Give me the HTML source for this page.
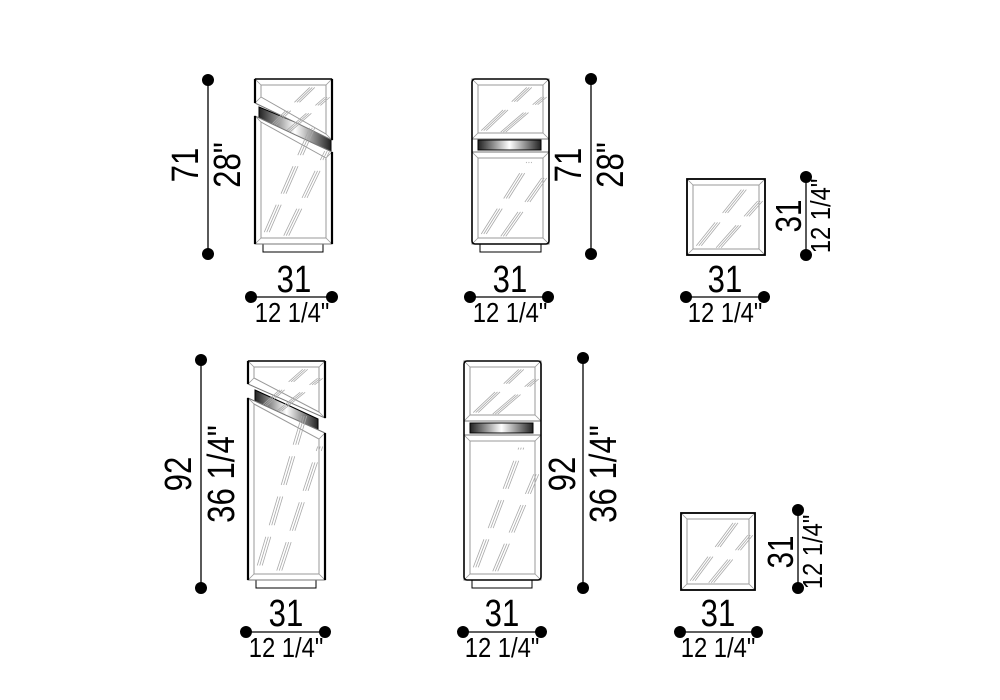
<!DOCTYPE html>
<html><head><meta charset="utf-8"><style>
html,body{margin:0;padding:0;background:#fff;}
svg{display:block}
text{font-family:"Liberation Sans",sans-serif;fill:#000}
</style></head><body>
<svg id="s" width="1000" height="700" viewBox="0 0 1000 700" xmlns="http://www.w3.org/2000/svg">
<defs>
<linearGradient id="g" x1="0" x2="1" y1="0" y2="0">
<stop offset="0" stop-color="#222"/><stop offset="0.5" stop-color="#fff"/><stop offset="1" stop-color="#222"/>
</linearGradient>
</defs>
<g id="shapes"></g>
<g stroke="#000" stroke-width="1.3">
<line x1="208" y1="80" x2="208" y2="254"/><line x1="251" y1="297" x2="332" y2="297"/>
<line x1="591" y1="79" x2="591" y2="254"/><line x1="470" y1="297" x2="548" y2="297"/>
<line x1="806" y1="177" x2="806" y2="255"/><line x1="686" y1="297" x2="764" y2="297"/>
<line x1="201" y1="360" x2="201" y2="588"/><line x1="246" y1="632" x2="325" y2="632"/>
<line x1="583" y1="358" x2="583" y2="588"/><line x1="463" y1="632" x2="541" y2="632"/>
<line x1="798" y1="510" x2="798" y2="588"/><line x1="680" y1="632" x2="757" y2="632"/>
</g>
<g fill="#000">
<circle cx="208" cy="80" r="6"/><circle cx="208" cy="254" r="6"/><circle cx="251" cy="297" r="6"/><circle cx="332" cy="297" r="6"/>
<circle cx="591" cy="79" r="6"/><circle cx="591" cy="254" r="6"/><circle cx="470" cy="297" r="6"/><circle cx="548" cy="297" r="6"/>
<circle cx="806" cy="177" r="6"/><circle cx="806" cy="255" r="6"/><circle cx="686" cy="297" r="6"/><circle cx="764" cy="297" r="6"/>
<circle cx="201" cy="360" r="6"/><circle cx="201" cy="588" r="6"/><circle cx="246" cy="632" r="6"/><circle cx="325" cy="632" r="6"/>
<circle cx="583" cy="358" r="6"/><circle cx="583" cy="588" r="6"/><circle cx="463" cy="632" r="6"/><circle cx="541" cy="632" r="6"/>
<circle cx="798" cy="510" r="6"/><circle cx="798" cy="588" r="6"/><circle cx="680" cy="632" r="6"/><circle cx="757" cy="632" r="6"/>
</g>
<g text-anchor="middle">
<text transform="translate(294,292) scale(0.82,1)" font-size="38">31</text>
<text transform="translate(292,322) scale(0.85,1)" font-size="28">12 1/4"</text>
<text transform="translate(510,292) scale(0.82,1)" font-size="38">31</text>
<text transform="translate(510,322) scale(0.85,1)" font-size="28">12 1/4"</text>
<text transform="translate(725,292) scale(0.82,1)" font-size="38">31</text>
<text transform="translate(725,322) scale(0.85,1)" font-size="28">12 1/4"</text>
<text transform="translate(286,626) scale(0.82,1)" font-size="38">31</text>
<text transform="translate(286,657) scale(0.85,1)" font-size="28">12 1/4"</text>
<text transform="translate(502,626) scale(0.82,1)" font-size="38">31</text>
<text transform="translate(502,657) scale(0.85,1)" font-size="28">12 1/4"</text>
<text transform="translate(718,626) scale(0.82,1)" font-size="38">31</text>
<text transform="translate(718,657) scale(0.85,1)" font-size="28">12 1/4"</text>
</g>
<g text-anchor="middle">
<text transform="translate(198,165) rotate(-90) scale(0.82,1)" font-size="38">71</text>
<text transform="translate(240,165) rotate(-90) scale(0.82,1)" font-size="38">28"</text>
<text transform="translate(581,165) rotate(-90) scale(0.82,1)" font-size="38">71</text>
<text transform="translate(623,165) rotate(-90) scale(0.82,1)" font-size="38">28"</text>
<text transform="translate(801,216) rotate(-90) scale(0.82,1)" font-size="36">31</text>
<text transform="translate(830,216) rotate(-90) scale(0.85,1)" font-size="28">12 1/4"</text>
<text transform="translate(191,474) rotate(-90) scale(0.82,1)" font-size="38">92</text>
<text transform="translate(234,474) rotate(-90) scale(0.82,1)" font-size="38">36 1/4"</text>
<text transform="translate(575,474) rotate(-90) scale(0.82,1)" font-size="38">92</text>
<text transform="translate(616,474) rotate(-90) scale(0.82,1)" font-size="38">36 1/4"</text>
<text transform="translate(793,552) rotate(-90) scale(0.82,1)" font-size="36">31</text>
<text transform="translate(822,552) rotate(-90) scale(0.85,1)" font-size="28">12 1/4"</text>
</g>
</svg>
<script>
var g=document.getElementById('shapes'),NS='http://www.w3.org/2000/svg';
function el(t,a){var e=document.createElementNS(NS,t);for(var k in a)e.setAttribute(k,a[k]);g.appendChild(e);return e;}
function pts(p){return p.map(function(q){return q.join(',')}).join(' ');}
function panel(p,ins){ins=ins||6;
 var cx=0,cy=0;p.forEach(function(q){cx+=q[0]/4;cy+=q[1]/4});
 var inn=p.map(function(q){return [q[0]+(q[0]<cx?ins:-ins),q[1]+(q[1]<cy?ins:-ins)]});
 el('polygon',{points:pts(p),fill:'#fff',stroke:'#777','stroke-width':1});
 el('polygon',{points:pts(inn),fill:'none',stroke:'#999','stroke-width':1});
 for(var i=0;i<4;i++)el('line',{x1:p[i][0],y1:p[i][1],x2:inn[i][0],y2:inn[i][1],stroke:'#999','stroke-width':0.8});
 var minx=Math.min.apply(0,inn.map(function(q){return q[0]})),maxx=Math.max.apply(0,inn.map(function(q){return q[0]}));
 var miny=Math.min.apply(0,inn.map(function(q){return q[1]})),maxy=Math.max.apply(0,inn.map(function(q){return q[1]}));
 var w=maxx-minx,h=maxy-miny;
 [[0.05,0.95,0.75,0.05],[0.35,0.98,0.98,0.25]].forEach(function(s){
  for(var k=0;k<3;k++)el('line',{x1:minx+w*s[0]+k*2.5,y1:miny+h*s[1],x2:minx+w*s[2]+k*2.5,y2:miny+h*s[3],stroke:'#aaa','stroke-width':0.8,'stroke-dasharray':'30 12'});
 });
}
el('rect',{x:263,y:244,width:60,height:8,fill:'#fff',stroke:'#000','stroke-width':1});
el('polygon',{points:'259,107 331,137 331,152 259,122',fill:'url(#g)',stroke:'#000','stroke-width':1});
panel([[255,79],[332,79],[332,140],[255,103]]);
panel([[255,116],[332,152],[332,244],[255,244]]);
el('line',{x1:255,y1:79,x2:332,y2:79,stroke:'#000','stroke-width':1.5});
el('line',{x1:255,y1:79,x2:255,y2:103,stroke:'#000','stroke-width':2.2});
el('line',{x1:255,y1:116,x2:255,y2:244,stroke:'#000','stroke-width':2.2});
el('line',{x1:332,y1:79,x2:332,y2:140,stroke:'#000','stroke-width':2.2});
el('line',{x1:332,y1:152,x2:332,y2:244,stroke:'#000','stroke-width':2.2});
el('rect',{x:480,y:244,width:61,height:8,fill:'#fff',stroke:'#000','stroke-width':1});
panel([[472,79],[549,79],[549,139],[472,139]]);
el('rect',{x:478,y:140,width:63,height:10,fill:'url(#g)',stroke:'#000','stroke-width':1});
panel([[472,152],[549,152],[549,244],[472,244]]);
el('rect',{x:472,y:79,width:77,height:165,rx:3,fill:'none',stroke:'#000','stroke-width':1.6});
panel([[687,179],[765,179],[765,255],[687,255]]);
el('rect',{x:687,y:179,width:78,height:76,fill:'none',stroke:'#000','stroke-width':1.8});
el('rect',{x:256,y:580,width:60,height:8,fill:'#fff',stroke:'#000','stroke-width':1});
el('polygon',{points:'255,390 318,419 318,434 255,405',fill:'url(#g)',stroke:'#000','stroke-width':1});
panel([[248,361],[325,361],[325,418],[248,384]]);
panel([[248,398],[325,433],[325,580],[248,580]]);
el('line',{x1:248,y1:361,x2:325,y2:361,stroke:'#000','stroke-width':1.5});
el('line',{x1:248,y1:361,x2:248,y2:384,stroke:'#000','stroke-width':2.2});
el('line',{x1:248,y1:398,x2:248,y2:580,stroke:'#000','stroke-width':2.2});
el('line',{x1:325,y1:361,x2:325,y2:418,stroke:'#000','stroke-width':2.2});
el('line',{x1:325,y1:433,x2:325,y2:580,stroke:'#000','stroke-width':2.2});
el('rect',{x:472,y:580,width:60,height:8,fill:'#fff',stroke:'#000','stroke-width':1});
panel([[464,361],[541,361],[541,421],[464,421]]);
el('rect',{x:470,y:423,width:63,height:10,fill:'url(#g)',stroke:'#000','stroke-width':1});
panel([[464,435],[541,435],[541,580],[464,580]]);
el('rect',{x:464,y:361,width:77,height:219,rx:3,fill:'none',stroke:'#000','stroke-width':1.6});
panel([[681,513],[755,513],[755,590],[681,590]]);
el('rect',{x:681,y:513,width:74,height:77,fill:'none',stroke:'#000','stroke-width':1.8});
</script>
</body></html>
